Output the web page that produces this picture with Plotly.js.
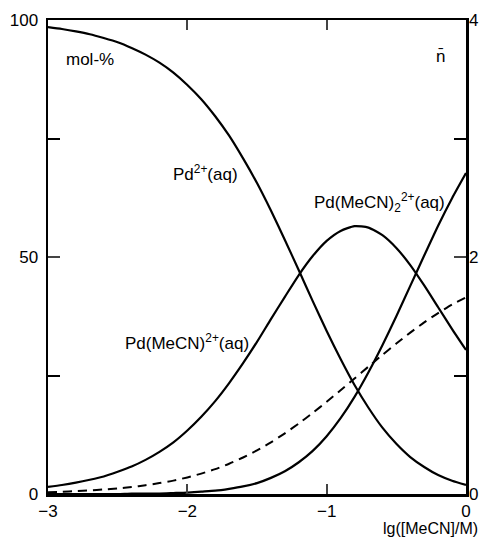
<!DOCTYPE html>
<html>
<head>
<meta charset="utf-8">
<script src="https://cdn.plot.ly/plotly-3.0.1.min.js"></script>
<style>html,body{margin:0;padding:0;background:#fff}#chart{width:481px;height:540px}</style>
</head>
<body>
<div id="chart"></div>
<script>
// lg([MeCN]/M)
var lgL = [-3.0,-2.9,-2.8,-2.7,-2.6,-2.5,-2.4,-2.3,-2.2,-2.1,-2.0,-1.9,-1.8,-1.7,-1.6,-1.5,-1.4,-1.3,-1.2,-1.1,-1.0,-0.9,-0.8,-0.7,-0.6,-0.5,-0.4,-0.3,-0.2,-0.1,0.0];
// mol-% Pd2+(aq)
var pd0 = [98.5,98.1,97.6,97.0,96.2,95.3,94.1,92.7,91.0,88.9,86.3,83.3,79.7,75.6,70.8,65.6,59.8,53.6,47.2,40.7,34.4,28.5,23.0,18.2,14.0,10.6,7.8,5.7,4.0,2.8,1.9];
// mol-% curve peaking in the middle
var pd1 = [1.5,1.9,2.4,3.0,3.7,4.7,5.8,7.2,8.9,10.9,13.4,16.3,19.6,23.4,27.6,32.1,36.9,41.6,46.2,50.2,53.4,55.5,56.5,56.2,54.6,51.9,48.3,44.0,39.4,34.8,30.4];
// mol-% curve rising at the end
var pd2 = [0.0,0.0,0.0,0.0,0.0,0.0,0.1,0.1,0.1,0.2,0.3,0.5,0.7,1.1,1.6,2.3,3.4,4.8,6.7,9.1,12.2,16.0,20.5,25.7,31.4,37.5,43.9,50.3,56.6,62.4,67.7];
// n-bar (right axis)
var nbar = [0.015,0.019,0.024,0.030,0.038,0.047,0.059,0.074,0.092,0.113,0.140,0.172,0.210,0.255,0.308,0.368,0.436,0.512,0.595,0.684,0.778,0.876,0.975,1.075,1.174,1.270,1.362,1.448,1.527,1.599,1.660];

var xTickVals = [-3,-2,-1,0];
var xTickText = ['\u22123','\u22122','\u22121','0'];
var yTickVals = [0,50,100];
var yTickText = ['0','50','100'];
var y2TickVals = [0,2,4];
var y2TickText = ['0','2','4'];

var FONT = 'Liberation Sans, Arial, Helvetica, sans-serif';
var solid = {color:'#000', width:2.2, shape:'spline', smoothing:0.6};

var traces = [
  {x:lgL, y:pd0, mode:'lines', line:solid, hoverinfo:'skip'},
  {x:lgL, y:pd1, mode:'lines', line:solid, hoverinfo:'skip'},
  {x:lgL, y:pd2, mode:'lines', line:solid, hoverinfo:'skip'},
  {x:lgL, y:nbar, yaxis:'y2', mode:'lines', line:{color:'#000', width:2, dash:'9px,6px', shape:'spline', smoothing:0.6}, hoverinfo:'skip'}
];

var layout = {
  width:481, height:540,
  margin:{l:48, r:15, t:20, b:46},
  paper_bgcolor:'#fff', plot_bgcolor:'#fff',
  showlegend:false,
  font:{family:FONT, size:17, color:'#000'},
  xaxis:{range:[-3,0], tickvals:xTickVals, ticktext:xTickText, ticks:'inside', ticklen:10, tickwidth:2,
         showline:true, linewidth:2.5, linecolor:'#000', mirror:'ticks', showgrid:false, zeroline:false,
         tickfont:{family:FONT, size:17, color:'#000'}, fixedrange:true},
  yaxis:{range:[0,100], tickvals:yTickVals, ticktext:yTickText, ticks:'inside', ticklen:12, tickwidth:2,
         minor:{tickmode:'linear', tick0:0, dtick:25, ticks:'inside', ticklen:12, tickwidth:2, tickcolor:'#000'},
         showline:true, linewidth:2.5, linecolor:'#000', mirror:'ticks', showgrid:false, zeroline:false,
         tickfont:{family:FONT, size:17, color:'#000'}, ticklabelstandoff:4, fixedrange:true},
  yaxis2:{range:[0,4], overlaying:'y', side:'right', tickvals:y2TickVals, ticktext:y2TickText, ticks:'inside', ticklen:12, tickwidth:2,
          minor:{tickmode:'linear', tick0:0, dtick:1, ticks:'inside', ticklen:12, tickwidth:2, tickcolor:'#000'},
          showline:false, showgrid:false, zeroline:false, tickfont:{family:FONT, size:17, color:'#000'},
          ticklabelstandoff:2, fixedrange:true},
  annotations:[
    {x:-2.70, y:91.6, xref:'x', yref:'y', text:'mol-%', showarrow:false, font:{family:FONT, size:17}},
    {x:-0.186, y:92.2, xref:'x', yref:'y', text:'n\u0304', showarrow:false, font:{family:FONT, size:17}},
    {x:-1.873, y:67.7, xref:'x', yref:'y', text:'Pd<sup>2+</sup>(aq)', showarrow:false, font:{family:FONT, size:17}},
    {x:-0.624, y:61.6, xref:'x', yref:'y', text:'Pd(MeCN)<sub>2</sub><sup>2+</sup>(aq)', showarrow:false, font:{family:FONT, size:17}},
    {x:-2.00, y:32.1, xref:'x', yref:'y', text:'Pd(MeCN)<sup>2+</sup>(aq)', showarrow:false, font:{family:FONT, size:17}},
    {x:(480-48)/418, y:(494-528)/474, xref:'paper', yref:'paper', text:'lg([MeCN]/M)', showarrow:false, font:{family:FONT, size:16}, xanchor:'right', yanchor:'middle'}
  ]
};

Plotly.newPlot('chart', traces, layout, {staticPlot:true, displayModeBar:false});
</script>
</body>
</html>
